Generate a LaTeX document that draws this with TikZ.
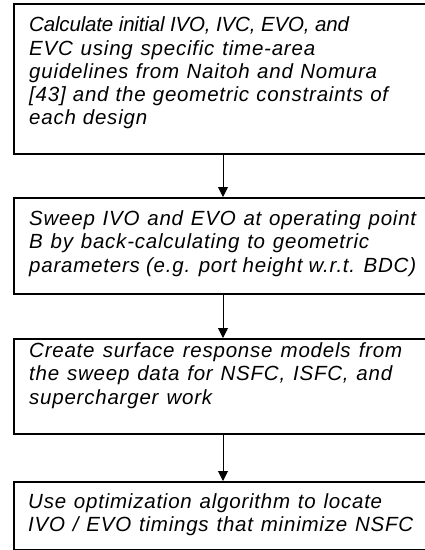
\documentclass[tikz,border=0pt]{standalone}
\usepackage{fontspec}
\setmainfont{Liberation Sans}
\usetikzlibrary{arrows.meta}
\newcommand\jline[2]{\hbox to #1{#2}}
\newcommand\tline[2]{\hbox to #1{\addfontfeature{LetterSpace=-0.8}#2\hss}}
\tikzset{
  box/.style={draw=black, line width=1.6pt, rectangle, anchor=north west,
    minimum width=457pt, inner sep=0pt},
  txt/.style={anchor=base west, inner sep=0pt,
    font=\fontsize{20.5}{23.3}\selectfont\itshape\addfontfeature{LetterSpace=3.8}},
  arr/.style={draw=black, line width=1pt, -{Triangle[width=10pt,length=10pt]}},
}
\begin{document}
\begin{tikzpicture}[x=1pt,y=-1pt]
\useasboundingbox (0,0) rectangle (425,550);
\fill[white] (0,0) rectangle (425,550);
\clip (0,0) rectangle (425,550);
\node[box, minimum height=150pt] (b1) at (13,3) {};
\node[box, minimum height=96pt] (b2) at (13,197) {};
\node[box, minimum height=95pt] (b3) at (13,338) {};
\node[box, minimum height=67.5pt] (b4) at (13,481) {};
\node[txt] (t1) at (29,31.7) {\vtop{%
  \tline{296pt}{Calculate initial IVO, IVC, EVO, and}
  \jline{286pt}{EVC using specific time-area}
  \jline{348pt}{guidelines from Naitoh and Nomura}
  \jline{359pt}{[43] and the geometric constraints of}
  \jline{118pt}{each design}}};
\node[txt] (t2) at (29,225.5) {\vtop{%
  \jline{387pt}{Sweep IVO and EVO at operating point}
  \jline{340pt}{B by back-calculating to geometric}
  \jline{387pt}{parameters (e.g. port height w.r.t. BDC)}}};
\node[txt] (t3) at (29,357.5) {\vtop{%
  \jline{373pt}{Create surface response models from}
  \jline{363pt}{the sweep data for NSFC, ISFC, and}
  \jline{183pt}{supercharger work}}};
\node[txt] (t4) at (28,508) {\vtop{%
  \jline{354pt}{Use optimization algorithm to locate}
  \jline{385pt}{IVO / EVO timings that minimize NSFC}}};
\coordinate (ax) at (223,0);
\draw[arr] (b1.south -| ax) -- (b2.north -| ax);
\draw[arr] (b2.south -| ax) -- (b3.north -| ax);
\draw[arr] (b3.south -| ax) -- (b4.north -| ax);
\end{tikzpicture}
\end{document}
